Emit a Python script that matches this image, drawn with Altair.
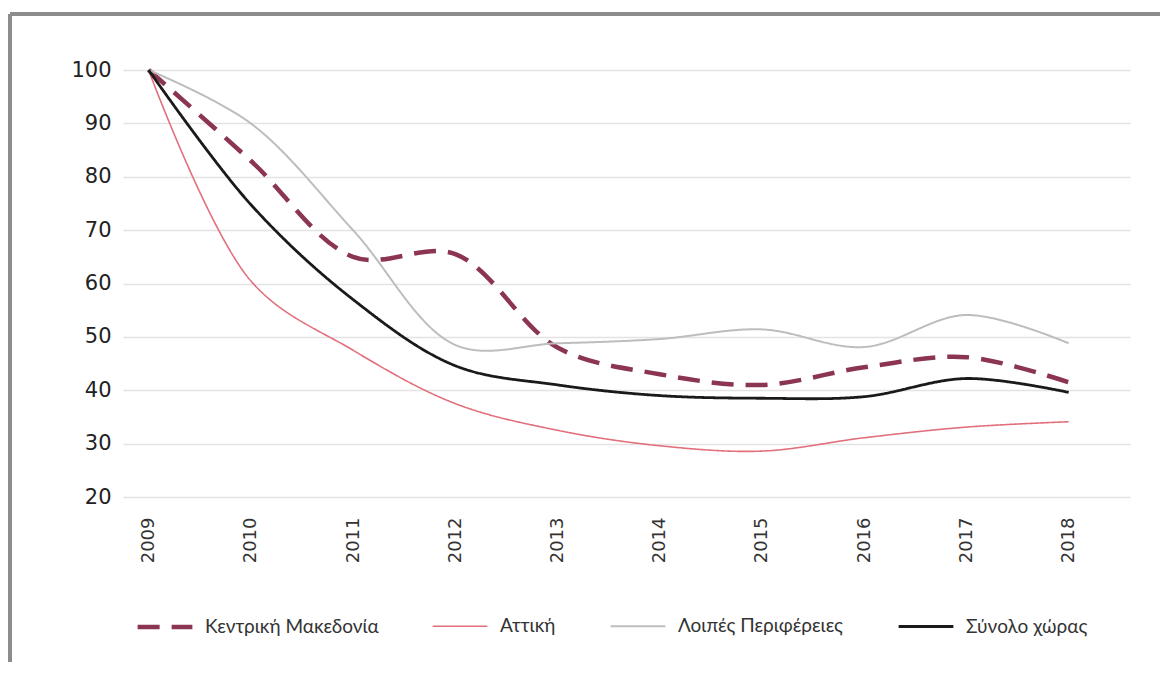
import altair as alt
import pandas as pd

years = [2009, 2010, 2011, 2012, 2013, 2014, 2015, 2016, 2017, 2018]
series_names = ["Κεντρική Μακεδονία", "Αττική", "Λοιπές Περιφέρειες", "Σύνολο χώρας"]
kentriki = [100, 83, 65, 65.5, 48, 43, 41, 44.3, 46.2, 41.5]
attiki = [100, 60.5, 47.5, 37.5, 32.5, 29.6, 28.6, 31.1, 33.1, 34.1]
loipes = [100, 90, 70, 48.5, 48.8, 49.6, 51.4, 48.1, 54.1, 48.8]
synolo = [100, 74.8, 57, 44.6, 41, 39, 38.5, 38.8, 42.2, 39.6]

values = [kentriki, attiki, loipes, synolo]
rows = []
for name, vals in zip(series_names, values):
    for y, v in zip(years, vals):
        rows.append({"year": y, "value": v, "series": name})
df = pd.DataFrame(rows)

colors = ["#8B3553", "#E2707C", "#BDBDBD", "#1A1A1A"]
dashes = [[22, 12], [1, 0], [1, 0], [1, 0]]
widths = [4.5, 1.6, 2, 2.8]


def leg():
    return alt.Legend(title=None, orient="none", legendX=12, legendY=527,
                      direction="horizontal", columns=4, symbolType="stroke",
                      symbolSize=3000, labelFontSize=19, labelColor="#333333",
                      labelFont="Lato", columnPadding=50, labelOffset=10, labelLimit=400)


lines = alt.Chart(df).mark_line(interpolate="catmull-rom").encode(
    x=alt.X("year:Q", scale=alt.Scale(domain=[2008.75, 2018.6], nice=False, zero=False),
            axis=alt.Axis(values=years, format="d", labelAngle=270, grid=False, domain=False,
                          ticks=False, labelPadding=20, labelFontSize=18, labelColor="#333333",
                          labelFont="DejaVu Sans",
                          labelAlign="right", labelBaseline="middle", title=None)),
    y=alt.Y("value:Q", scale=alt.Scale(domain=[20, 100], nice=False, zero=False),
            axis=alt.Axis(values=[20, 30, 40, 50, 60, 70, 80, 90, 100], grid=True, gridColor="#E3E3E3",
                          gridWidth=1.5, domain=False, ticks=False, labelPadding=12,
                          labelFontSize=21, labelColor="#222222", labelFont="DejaVu Sans",
                          title=None)),
    color=alt.Color("series:N", sort=series_names,
                    scale=alt.Scale(domain=series_names, range=colors), legend=leg()),
    strokeDash=alt.StrokeDash("series:N", sort=series_names,
                              scale=alt.Scale(domain=series_names, range=dashes), legend=leg()),
    strokeWidth=alt.StrokeWidth("series:N", sort=series_names,
                                scale=alt.Scale(type="ordinal", domain=series_names, range=widths),
                                legend=leg()),
)

frame_top = alt.Chart(df).mark_rule(color="#8C8C8C", strokeWidth=2.5, clip=False).encode(
    x=alt.value(-113), x2=alt.value(1200), y=alt.value(-56))
frame_left = alt.Chart(df).mark_rule(color="#8C8C8C", strokeWidth=2.5, clip=False).encode(
    x=alt.value(-113), y=alt.value(-56), y2=alt.value(800))

chart = alt.layer(frame_top, frame_left, lines).properties(
    width=1007, height=427,
    autosize=alt.AutoSizeParams(type="none"),
    padding={"left": 115, "top": 62, "right": 30, "bottom": 165},
).configure(font="Lato").configure_view(stroke=None)

chart.save("out.html", embed_options={"renderer": "svg", "actions": False})
